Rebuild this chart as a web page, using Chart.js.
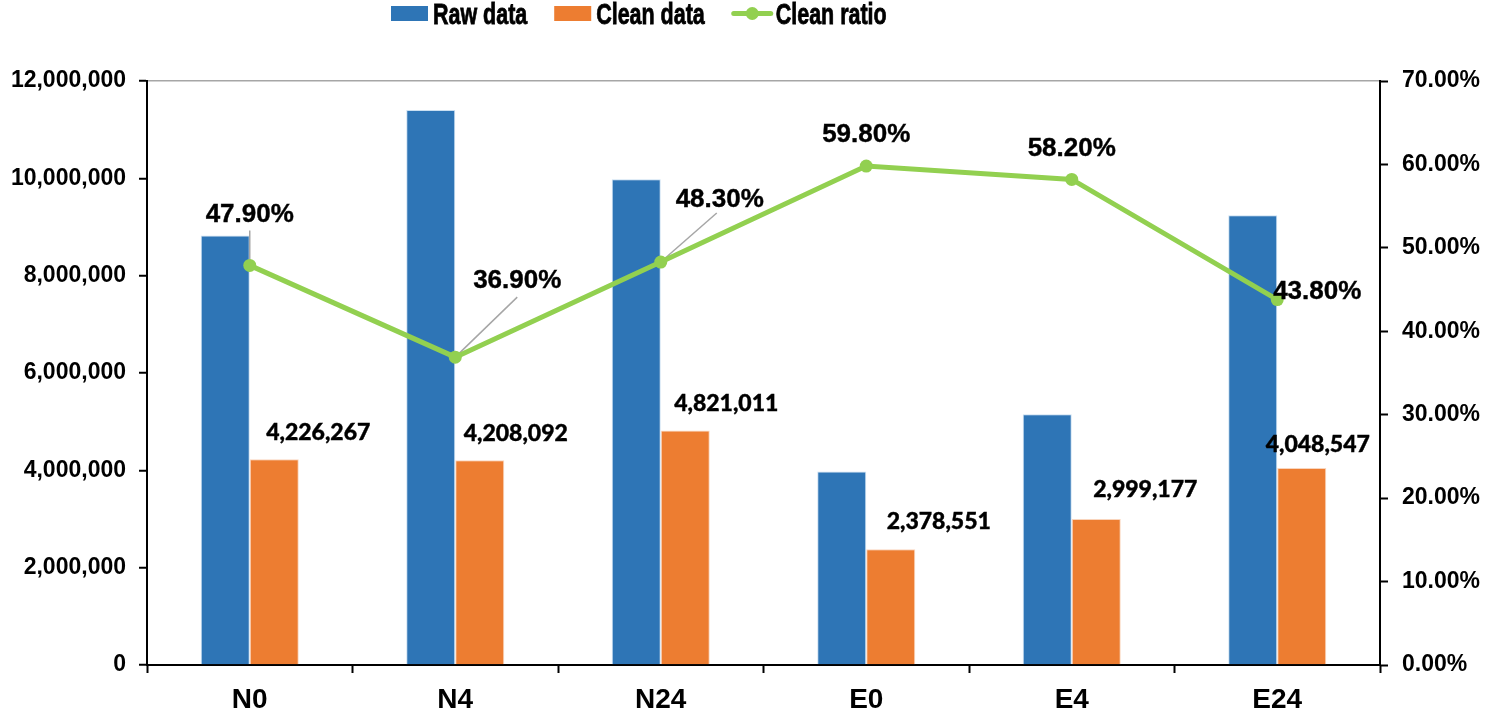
<!DOCTYPE html>
<html>
<head>
<meta charset="utf-8">
<script src="https://cdn.jsdelivr.net/npm/chart.js@4.4.1/dist/chart.umd.min.js"></script>
<style>
  html, body { margin: 0; padding: 0; background: #fff; }
  #wrap { width: 1487px; height: 717px; position: relative; }
</style>
</head>
<body>
<div id="wrap"><canvas id="c"></canvas></div>
<script>
// ---- data ----
const categories = ['N0', 'N4', 'N24', 'E0', 'E4', 'E24'];
const rawData = [8823104, 11404043, 9981389, 3977510, 5153225, 9243258];
const cleanData = [4226267, 4208092, 4821011, 2378551, 2999177, 4048547];
const cleanRatio = [47.9, 36.9, 48.3, 59.8, 58.2, 43.8];
const seriesNames = ['Raw data', 'Clean data', 'Clean ratio'];
const leftTicks = [0, 2000000, 4000000, 6000000, 8000000, 10000000, 12000000];
const rightTicks = [0, 10, 20, 30, 40, 50, 60, 70];

// ---- label placement (pixel offsets of data labels from their mark) ----
const cleanLabelOffsets = [[44, -27], [36, -27], [41, -27], [48, -28], [49, -29], [16, -23]];
const ratioLabelOffsets = [[0, -52], [62, -77], [59, -63], [0, -32], [0, -32], [40, -9]];
const ratioLeaderStart = [[0, 17], [0, 17], [-3, 14], null, null, null];

const COLORS = { raw: '#2E75B6', clean: '#ED7D31', ratio: '#92D050' };

const labelPlugin = {
  id: 'dataLabels',
  beforeDatasetDraw(chart, args) {
    if (args.index !== 2) return;
    const ctx = chart.ctx;
    const meta = chart.getDatasetMeta(2);
    ctx.save();
    ctx.strokeStyle = '#a6a6a6';
    ctx.lineWidth = 1.5;
    meta.data.forEach((pt, i) => {
      const ls = ratioLeaderStart[i];
      if (!ls) return;
      const [dx, dy] = ratioLabelOffsets[i];
      ctx.beginPath();
      ctx.moveTo(pt.x + dx + ls[0], pt.y + dy + ls[1]);
      ctx.lineTo(pt.x, pt.y);
      ctx.stroke();
    });
    ctx.restore();
  },
  afterDatasetsDraw(chart) {
    const ctx = chart.ctx;
    ctx.save();
    ctx.fillStyle = '#000';
    ctx.strokeStyle = '#000';
    ctx.textAlign = 'center';
    ctx.textBaseline = 'middle';
    ctx.font = '900 23px Lato, "Open Sans", sans-serif';
    ctx.lineWidth = 0.4;
    chart.getDatasetMeta(1).data.forEach((bar, i) => {
      const [dx, dy] = cleanLabelOffsets[i];
      const t = cleanData[i].toLocaleString('en-US');
      ctx.fillText(t, bar.x + dx, bar.y + dy);
      ctx.strokeText(t, bar.x + dx, bar.y + dy);
    });
    ctx.font = 'bold 26px "Liberation Sans", Arial, sans-serif';
    chart.getDatasetMeta(2).data.forEach((pt, i) => {
      const [dx, dy] = ratioLabelOffsets[i];
      const t = cleanRatio[i].toFixed(2) + '%';
      ctx.fillText(t, pt.x + dx, pt.y + dy + 1);
      ctx.strokeText(t, pt.x + dx, pt.y + dy + 1);
    });
    ctx.restore();
  },
  afterDraw(chart) {
    // legend
    const ctx = chart.ctx;
    const sx = 0.74;
    ctx.save();
    ctx.font = 'bold 29px "Liberation Sans", Arial, sans-serif';
    ctx.textBaseline = 'alphabetic';
    ctx.textAlign = 'left';
    ctx.lineWidth = 0.8;
    ctx.strokeStyle = '#000';
    let x = 391;
    const yMid = 13.5;
    chart.data.datasets.forEach((ds, i) => {
      if (ds.type === 'line') {
        ctx.strokeStyle = ds.borderColor;
        ctx.lineWidth = 5;
        ctx.lineCap = 'round';
        ctx.beginPath();
        ctx.moveTo(x + 2, yMid); ctx.lineTo(x + 39, yMid); ctx.stroke();
        ctx.fillStyle = ds.borderColor;
        ctx.beginPath(); ctx.arc(x + 20.5, yMid, 6.5, 0, Math.PI * 2); ctx.fill();
        ctx.strokeStyle = '#000';
        ctx.lineWidth = 0.8;
        x += 44;
      } else {
        ctx.fillStyle = ds.backgroundColor;
        ctx.fillRect(x, 6, 37, 15);
        x += 42;
      }
      ctx.fillStyle = '#000';
      ctx.save();
      ctx.translate(x, 23.5);
      ctx.scale(sx, 1);
      ctx.fillText(ds.label, 0, 0);
      ctx.strokeText(ds.label, 0, 0);
      ctx.restore();
      x += ctx.measureText(ds.label).width * sx + 27;
    });
    ctx.restore();
  }
};

new Chart(document.getElementById('c'), {
  data: {
    labels: categories,
    datasets: [
      { type: 'bar', label: seriesNames[0], data: rawData, yAxisID: 'y', order: 2,
        backgroundColor: COLORS.raw, borderColor: 'rgba(189,215,238,0.8)', borderWidth: 1,
        categoryPercentage: 0.477, barPercentage: 1 },
      { type: 'bar', label: seriesNames[1], data: cleanData, yAxisID: 'y', order: 2,
        backgroundColor: COLORS.clean, borderColor: 'rgba(248,203,173,0.8)', borderWidth: 1,
        categoryPercentage: 0.477, barPercentage: 1 },
      { type: 'line', label: seriesNames[2], data: cleanRatio, yAxisID: 'y1', order: 1,
        borderColor: COLORS.ratio, backgroundColor: COLORS.ratio, borderWidth: 5,
        pointRadius: 6.5, pointBackgroundColor: COLORS.ratio, pointBorderWidth: 0,
        tension: 0, fill: false }
    ]
  },
  options: {
    responsive: true,
    maintainAspectRatio: false,
    animation: false,
    layout: { padding: { top: 81, left: 0, right: 0, bottom: 0 } },
    plugins: { legend: { display: false }, tooltip: { enabled: false } },
    scales: {
      x: {
        offset: true,
        grid: { offset: true, drawOnChartArea: false, tickColor: '#000', tickLength: 8, tickWidth: 2 },
        border: { color: '#000', width: 2 },
        ticks: { color: '#000', padding: 10, font: { family: '"Liberation Sans", Arial, sans-serif', size: 28, weight: 'bold' } },
        afterFit(s) { s.height = 52; }
      },
      y: {
        position: 'left',
        min: 0, max: 12000000,
        afterBuildTicks(s) { s.ticks = leftTicks.map(v => ({ value: v })); },
        grid: {
          color: (c) => (c.tick && c.tick.value === 12000000) ? '#a6a6a6' : 'rgba(0,0,0,0)',
          lineWidth: 1.5, tickColor: '#000', tickLength: 8, tickWidth: 2
        },
        border: { color: '#000', width: 2 },
        ticks: { color: '#000', padding: 13,
          font: { family: '"Liberation Sans", Arial, sans-serif', size: 23, weight: 'bold' },
          callback: (v) => Number(v).toLocaleString('en-US') },
        afterFit(s) { s.width = 147; }
      },
      y1: {
        position: 'right',
        min: 0, max: 70,
        afterBuildTicks(s) { s.ticks = rightTicks.map(v => ({ value: v })); },
        grid: { drawOnChartArea: false, tickColor: '#000', tickLength: 8, tickWidth: 2 },
        border: { color: '#000', width: 2 },
        ticks: { color: '#000', padding: 14,
          font: { family: '"Liberation Sans", Arial, sans-serif', size: 23, weight: 'bold' },
          callback: (v) => Number(v).toFixed(2) + '%' },
        afterFit(s) { s.width = 107; }
      }
    }
  },
  plugins: [labelPlugin]
});
</script>
</body>
</html>
